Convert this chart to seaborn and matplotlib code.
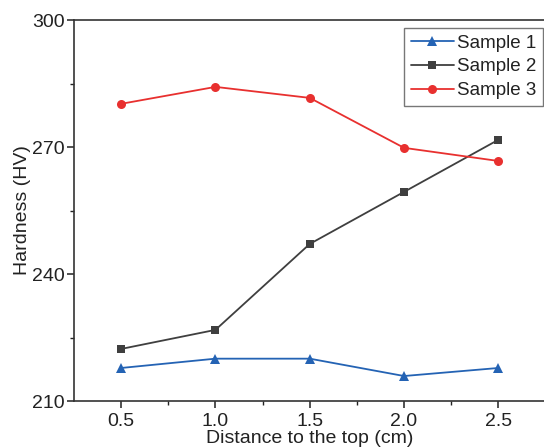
import numpy as np
import pandas as pd
import seaborn as sns
import matplotlib.pyplot as plt

# data
distance = [0.5, 1.0, 1.5, 2.0, 2.5]
sample1 = [217.8, 220.0, 220.0, 215.9, 217.8]
sample2 = [222.3, 226.8, 247.1, 259.4, 271.7]
sample3 = [280.2, 284.2, 281.6, 269.8, 266.7]

series_names = ["Sample 1", "Sample 2", "Sample 3"]
colors = ["#2463b4", "#3f3f3f", "#e8302f"]
markers = ["^", "s", "o"]
msizes = [6.5, 5.5, 6.5]

sns.set_style("ticks")
plt.rcParams.update({'font.family': ['Liberation Sans', 'DejaVu Sans'],
                     'font.size': 14,
                     'text.color': '#222222',
                     'axes.labelcolor': '#222222',
                     'xtick.color': '#222222',
                     'ytick.color': '#222222',
                     'axes.edgecolor': '#333333',
                     'axes.linewidth': 1.2,
                     'xtick.direction': 'out',
                     'ytick.direction': 'out'})

df = pd.DataFrame({"distance": distance * 3,
                   "hardness": sample1 + sample2 + sample3,
                   "sample": np.repeat(series_names, len(distance))})

fig = plt.figure(figsize=(5.44, 4.48), dpi=100)
ax = fig.add_axes([74 / 544, 1 - 401 / 448, 471.5 / 544, 381 / 448])

for name, c, m, ms in zip(series_names, colors, markers, msizes):
    sub = df[df["sample"] == name]
    sns.lineplot(data=sub, x="distance", y="hardness", ax=ax, color=c,
                 marker=m, markersize=ms, markeredgewidth=0, linewidth=1.3,
                 label=name)

ax.set_xlim(0.25, 2.75)
ax.set_ylim(210, 300)
ax.set_xticks([0.5, 1.0, 1.5, 2.0, 2.5])
ax.set_yticks([210, 240, 270, 300])
ax.set_xticks([0.75, 1.25, 1.75, 2.25], minor=True)
ax.set_yticks([225, 255, 285], minor=True)
ax.tick_params(which='major', length=5, width=1.1, labelsize=14)
ax.tick_params(which='minor', length=3, width=1.0)
ax.tick_params(axis='y', which='major', pad=1.5)
ax.set_xlabel("Distance to the top (cm)", labelpad=0)
ax.set_ylabel("Hardness (HV)")
ax.yaxis.set_label_coords(-0.092, 0.5)

leg = ax.legend(loc='upper right', bbox_to_anchor=(0.9955, 0.979),
                frameon=True, fancybox=False, handlelength=2.3,
                handletextpad=0.2, borderpad=0.35, labelspacing=0.35,
                borderaxespad=0, fontsize=13.5)
leg.get_frame().set_edgecolor('#555555')
leg.get_frame().set_linewidth(1.0)

fig.savefig("out.png", dpi=100)
